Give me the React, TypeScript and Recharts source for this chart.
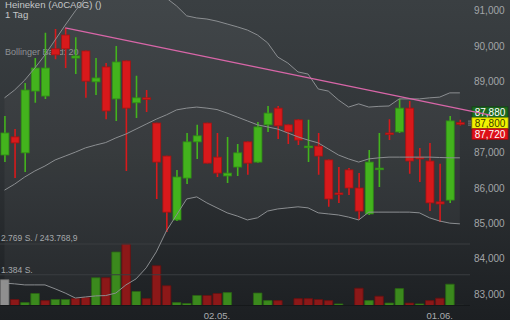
import React from 'react';
import { ComposedChart, Bar, Line, Area, XAxis, YAxis, ReferenceLine, Cell } from 'recharts';

const FONT = '"Liberation Sans", Arial, sans-serif';

// daily candles, oldest first
const opens = [86930, 87440, 86990, 88730, 88590, 89920, 90310, 89660, 89860, 88990, 89410, 88510, 89580, 88400, 88540, 87830, 86900, 85100, 86280, 87300, 87830, 86870, 86340, 86590, 87300, 86730, 87780, 88250, 87780, 87920, 87160, 87180, 86790, 85860, 86510, 86000, 85270, 86540, 87550, 87580, 88250, 86870, 86760, 85610, 85660, 87840];
const highs = [88030, 87660, 88960, 89660, 90370, 90480, 90510, 90250, 89870, 89660, 89520, 90000, 89590, 89160, 88760, 87840, 86910, 86510, 87550, 87780, 87840, 87550, 87440, 87240, 87310, 87860, 88310, 88310, 87790, 87940, 87920, 87550, 86800, 86590, 86560, 86420, 87070, 87550, 87940, 88510, 88450, 87130, 87270, 86680, 88030, 87920];
const lows = [86730, 86280, 86450, 88400, 88510, 89630, 89380, 89210, 88540, 88620, 87940, 87890, 86480, 87970, 88140, 85690, 84760, 85070, 86110, 86820, 86690, 86310, 86140, 86340, 86370, 86710, 87580, 87380, 87240, 87210, 86730, 86370, 85470, 85580, 85800, 85100, 85240, 86030, 87350, 87550, 86400, 86170, 85350, 85040, 85580, 87760];
const closes = [87550, 87270, 88760, 89380, 89380, 89750, 89920, 89720, 89010, 89100, 88170, 89550, 88250, 88540, 88510, 86730, 85320, 86310, 87300, 87470, 86700, 86420, 86420, 86990, 86700, 87720, 88110, 87750, 87580, 87350, 87180, 86900, 85690, 85830, 86000, 85350, 86730, 86560, 87520, 88250, 86760, 86820, 85580, 85550, 87890, 87800];

// volume (shares) and its colour class: u = up, d = down, n = neutral, z = tiny
const volumes = [1160, 270, 130, 540, 220, 270, 270, 310, 360, 1250, 1250, 2410, 2769, 630, 310, 1790, 890, 130, 90, 450, 450, 540, 580, 0, 0, 560, 220, 220, 0, 310, 310, 270, 220, 70, 0, 780, 220, 420, 110, 760, 110, 70, 220, 330, 960, 25];
const volumeDirs = ['n', 'd', 'u', 'u', 'd', 'u', 'u', 'd', 'd', 'u', 'd', 'u', 'd', 'u', 'd', 'd', 'd', 'u', 'u', 'u', 'd', 'd', 'u', 'u', 'u', 'u', 'u', 'd', 'd', 'd', 'd', 'd', 'd', 'u', 'd', 'd', 'u', 'd', 'u', 'u', 'd', 'u', 'd', 'd', 'u', 'z'];

// Bollinger band (20)
const bbUpper = [88540, 88760, 89040, 89380, 89750, 90170, 90590, 90990, 91350, 91520, 91630, 91780, 91800, 91860, 91800, 91630, 91350, 91130, 90850, 90790, 90760, 90700, 90620, 90540, 90450, 90310, 90090, 89690, 89520, 89270, 89210, 88790, 88730, 88480, 88280, 88370, 88280, 88300, 88310, 88510, 88510, 88510, 88540, 88560, 88680, 88680];
const bbMiddle = [85940, 86110, 86310, 86480, 86620, 86790, 86900, 87010, 87130, 87210, 87280, 87410, 87520, 87660, 87800, 87940, 88060, 88200, 88250, 88280, 88250, 88210, 88110, 88000, 87890, 87780, 87720, 87660, 87550, 87440, 87350, 87270, 87100, 86930, 86820, 86730, 86820, 86850, 86870, 86870, 86870, 86870, 86870, 86860, 86850, 86850];
const bbLower = [83320, 83300, 83270, 83270, 83270, 83160, 83040, 82900, 82930, 82960, 82970, 83040, 83270, 83440, 83750, 84200, 84790, 85240, 85690, 85750, 85580, 85440, 85300, 85210, 85100, 85160, 85350, 85410, 85440, 85470, 85440, 85300, 85270, 85240, 85180, 85100, 85320, 85320, 85320, 85320, 85320, 85300, 85160, 85070, 85010, 84990];

const priceTicks = [83000, 84000, 85000, 86000, 87000, 89000, 90000, 91000];
const dateTickIdx = [21, 43];
const dateTickLabels = ['02.05.', '01.06.'];

const trendStart = { i: 6, price: 90510 };
const trendEnd = { i: 48, price: 88050 };
const quotes = { ask: 87880, last: 87800, bid: 87720 };

const volMax = 2769;

const data = opens.map((o, i) => ({
  i,
  open: o,
  high: highs[i],
  low: lows[i],
  close: closes[i],
  range: [lows[i], highs[i]],
  vol: volumes[i],
  band: [bbLower[i], bbUpper[i]],
  upper: bbUpper[i],
  middle: bbMiddle[i],
  lower: bbLower[i],
}));

const UP = '#43b31d';
const UP_EDGE = '#2f8e14';
const DOWN = '#d8191b';
const DOWN_EDGE = '#a51313';

const volFill: Record<string, string> = { u: '#3b891d', d: '#8c1818', n: '#8f8f8f', z: '#35383a' };
const volEdge: Record<string, string> = { u: '#2a6513', d: '#661010', n: '#707070', z: '#2a2d2f' };

const fmt = (v: number) => v.toLocaleString('en-US');

const Candle = (props: any) => {
  const { x, y, width, height, payload } = props;
  const top = Math.min(y, y + height);
  const h = Math.abs(height);
  const span = payload.high - payload.low || 1;
  const toY = (v: number) => top + ((payload.high - v) / span) * h;
  const up = payload.close >= payload.open;
  const cx = x + width / 2;
  const bTop = toY(Math.max(payload.open, payload.close));
  const bBot = toY(Math.min(payload.open, payload.close));
  return (
    <g>
      <line x1={cx} x2={cx} y1={top} y2={top + h} stroke={up ? UP : DOWN} strokeWidth={1.6} />
      <rect
        x={x + 0.5}
        y={bTop}
        width={width - 1}
        height={Math.max(bBot - bTop, 1.6)}
        fill={up ? UP : DOWN}
        stroke={up ? UP_EDGE : DOWN_EDGE}
        strokeWidth={0.8}
      />
    </g>
  );
};

const PriceTick = ({ x, y, payload }: any) => (
  <text x={x + 4} y={y + 3.5} fill="#a2a5a8" fontSize={10} fontFamily={FONT} textAnchor="start">
    {fmt(payload.value)}
  </text>
);

const DateTick = ({ x, y, payload }: any) => (
  <text x={x} y={y + 13.5} fill="#a9acaf" fontSize={9.5} fontFamily={FONT} textAnchor="middle">
    {dateTickLabels[dateTickIdx.indexOf(payload.value)]}
  </text>
);

const QuoteBadges = ({ viewBox }: any) => {
  if (!viewBox) return null;
  const bx = viewBox.x + viewBox.width + 2;
  const cy = viewBox.y - 1;
  const rows = [
    { v: quotes.ask, dy: -11, bg: '#1c6a1f', edge: '#0f4512', fg: '#ffffff' },
    { v: quotes.last, dy: 0, bg: '#f2f200', edge: '#b5b500', fg: '#3b3b00' },
    { v: quotes.bid, dy: 11, bg: '#de1019', edge: '#9a0a10', fg: '#ffffff' },
  ];
  return (
    <g>
      {[-2, 0, 2].map((d) => (
        <line key={d} x1={viewBox.x + viewBox.width - 2} x2={viewBox.x + viewBox.width + 1} y1={cy + d} y2={cy + d} stroke="#8d9093" strokeWidth={0.8} />
      ))}
      {rows.map((r) => (
        <g key={r.v}>
          <rect x={bx} y={cy + r.dy - 5.3} width={36} height={10.6} fill={r.bg} stroke={r.edge} strokeWidth={0.8} />
          <text x={bx + 18} y={cy + r.dy + 3.6} fill={r.fg} fontSize={10} fontFamily={FONT} textAnchor="middle">
            {fmt(r.v)}
          </text>
        </g>
      ))}
    </g>
  );
};

export default function App() {
  return (
    <div
      style={{
        position: 'fixed',
        left: 0,
        top: 0,
        width: 510,
        height: 320,
        overflow: 'hidden',
        background: 'linear-gradient(to bottom, #3a3f42 0%, #303437 45%, #1c1f22 100%)',
      }}
    >
      <svg width={510} height={320} style={{ position: 'absolute', left: 0, top: 0 }}>
        <text x={5} y={7.8} fill="#c4c6c8" fontSize={9.6} fontFamily={FONT}>Heineken (A0CA0G) ()</text>
        <text x={5} y={17.6} fill="#c4c6c8" fontSize={9.6} fontFamily={FONT}>1 Tag</text>
        <text x={5} y={55} fill="#8e9194" fontSize={9} fontFamily={FONT}>Bollinger Band: 20</text>
        <text x={1} y={240.5} fill="#a2a5a8" fontSize={8.5} fontFamily={FONT}>2.769 S. / 243.768,9</text>
        <text x={1} y={272.5} fill="#a2a5a8" fontSize={8.5} fontFamily={FONT}>1.384 S.</text>
      </svg>
      <ComposedChart
        width={510}
        height={320}
        data={data}
        margin={{ top: 0, right: 0, bottom: 0, left: 0 }}
        style={{ position: 'absolute', left: 0, top: 0 }}
      >
        <XAxis
          xAxisId="main"
          type="number"
          dataKey="i"
          domain={[-0.445, 46]}
          allowDataOverflow
          ticks={dateTickIdx}
          interval={0}
          tick={<DateTick />}
          height={14.5}
          tickSize={0}
          tickMargin={0}
          axisLine={false}
          tickLine={false}
        />
        <XAxis xAxisId="vol" type="number" dataKey="i" domain={[-0.445, 46]} allowDataOverflow hide />
        <YAxis
          yAxisId="price"
          orientation="right"
          domain={[82690, 91296]}
          allowDataOverflow
          ticks={priceTicks}
          interval={0}
          tick={<PriceTick />}
          width={40}
          tickSize={0}
          tickMargin={0}
          axisLine={false}
          tickLine={false}
        />
        <YAxis yAxisId="vol" domain={[0, 13755]} allowDataOverflow hide />

        <ReferenceLine xAxisId="vol" yAxisId="vol" y={volMax} stroke="#3a3d40" strokeWidth={1} />
        <ReferenceLine xAxisId="vol" yAxisId="vol" y={volMax / 2} stroke="#3a3d40" strokeWidth={1} />

        <Area
          xAxisId="main"
          yAxisId="price"
          dataKey="band"
          stroke="none"
          fill="#ffffff"
          fillOpacity={0.04}
          dot={false}
          activeDot={false}
          isAnimationActive={false}
        />

        <Bar xAxisId="vol" yAxisId="vol" dataKey="vol" barSize={8.5} isAnimationActive={false}>
          {data.map((d, i) => (
            <Cell key={i} fill={volFill[volumeDirs[i]]} stroke={volEdge[volumeDirs[i]]} strokeWidth={0.8} />
          ))}
        </Bar>
        <ReferenceLine xAxisId="vol" yAxisId="vol" y={0} stroke="#15181a" strokeWidth={1.2} />

        <Line xAxisId="main" yAxisId="price" dataKey="upper" stroke="#8b8e91" strokeWidth={1} dot={false} activeDot={false} isAnimationActive={false} />
        <Line xAxisId="main" yAxisId="price" dataKey="middle" stroke="#8b8e91" strokeWidth={1} dot={false} activeDot={false} isAnimationActive={false} />
        <Line xAxisId="main" yAxisId="price" dataKey="lower" stroke="#8b8e91" strokeWidth={1} dot={false} activeDot={false} isAnimationActive={false} />

        <Bar xAxisId="main" yAxisId="price" dataKey="range" barSize={9} shape={<Candle />} activeBar={false} isAnimationActive={false} />

        <ReferenceLine
          xAxisId="main"
          yAxisId="price"
          y={quotes.last}
          stroke="none"
          ifOverflow="visible"
          label={<QuoteBadges />}
        />
        <ReferenceLine
          xAxisId="main"
          yAxisId="price"
          segment={[
            { x: trendStart.i, y: trendStart.price },
            { x: trendEnd.i, y: trendEnd.price },
          ]}
          stroke="#d866a8"
          strokeWidth={1.3}
          ifOverflow="visible"
        />
      </ComposedChart>
    </div>
  );
}
